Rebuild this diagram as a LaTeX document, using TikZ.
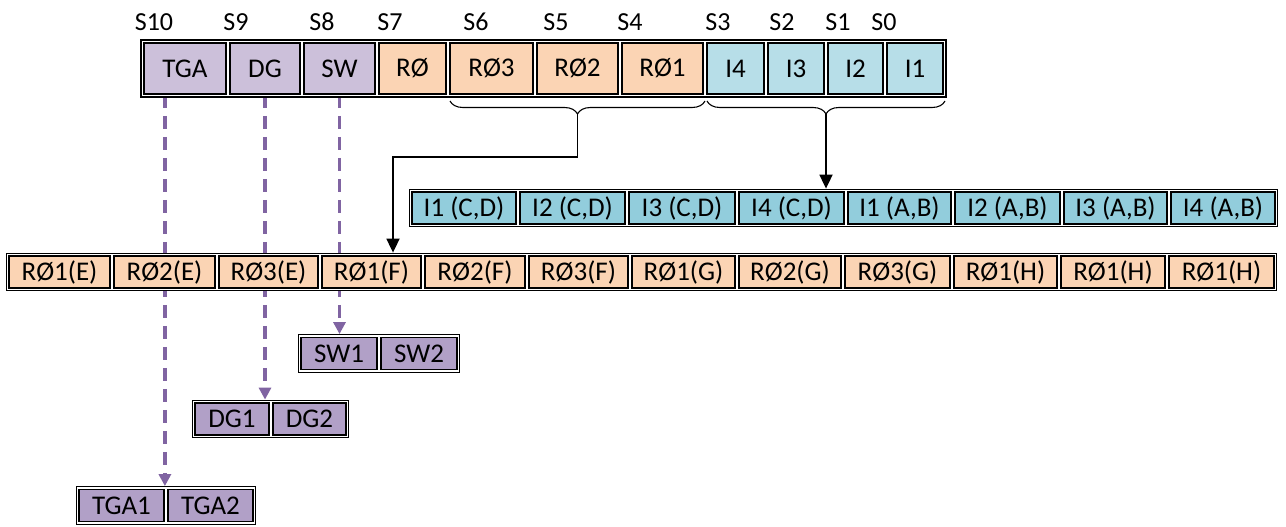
\documentclass[tikz,border=0pt]{standalone}
\usepackage{fontspec}
\setmainfont{Carlito}
\usepackage{tikz}
\usetikzlibrary{arrows.meta,positioning,fit,backgrounds,calc,decorations.pathreplacing}
\usepackage{xcolor}
\definecolor{lilac}{HTML}{CCC0DA}
\definecolor{plum}{HTML}{B1A0C7}
\definecolor{peach}{HTML}{FBD4B4}
\definecolor{paleaqua}{HTML}{B7DEE8}
\definecolor{aqua}{HTML}{92CDDC}
\definecolor{dashpurple}{HTML}{8064A2}
\tikzset{
cell/.style = {draw=black, line width=1.8pt, inner sep=0pt, font=\fontsize{27}{27}\selectfont},% one table cell
frame/.style = {draw=black, line width=1pt, fill=white, inner sep=2pt},% outer border of a table
slabel/.style = {inner sep=0pt, font=\fontsize{26}{26}\selectfont},% S0 .. S10
brace/.style = {decorate, decoration={brace, mirror, amplitude=13pt}, line width=1.1pt},
flow/.style = {line width=1.8pt, -{Triangle[length=14pt,width=13pt]}},
dashflow/.style = {dashpurple, line width=3.3pt, dash pattern=on 13pt off 8pt, -{Triangle[length=12pt,width=12pt]}}
}

\begin{document}
\begin{tikzpicture}[x=1pt,y=-1pt]
\useasboundingbox (0,0) rectangle (1286,527);

% status word
\foreach \l/\r/\t/\n/\c in {142/228/TGA/tga/lilac, 228/302/DG/dg/lilac, 302/377/SW/sw/lilac,
  377/448/RØ/rz/peach, 448/535/RØ3/rt/peach, 535/620/RØ2/rs/peach, 620/705/RØ1/ro/peach,
  705/766/I4/ifour/paleaqua, 766/826/I3/ithree/paleaqua, 826/885/I2/itwo/paleaqua, 885/945/I1/ione/paleaqua}{
  \pgfmathsetmacro\w{\r-\l-4}
  \node[cell, fill=\c, minimum width=\w pt, minimum height=51pt] (\n) at ({(\l+\r)/2},68.5) {\t};
}
\foreach \x/\t in {154/S10, 236/S9, 322/S8, 390/S7, 476/S6, 556/S5, 630/S4, 718/S3, 782/S2, 838/S1, 884/S0}
  \node[slabel] (s\t) at (\x,22) {\t};

% interrupt row
\foreach \l/\r/\t/\n in {{410/518/I1 (C,D)/icd1}, {518/627/I2 (C,D)/icd2}, {627/737/I3 (C,D)/icd3},
  {737/846/I4 (C,D)/icd4}, {846/953/I1 (A,B)/iab1}, {953/1062/I2 (A,B)/iab2},
  {1062/1169/I3 (A,B)/iab3}, {1169/1277/I4 (A,B)/iab4}}{
  \pgfmathsetmacro\w{\r-\l-4}
  \node[cell, fill=aqua, minimum width=\w pt, minimum height=32pt] (\n) at ({(\l+\r)/2},208) {\t};
}

% relay row
\foreach \l/\r/\t/\n in {7/112/RØ1(E)/re1, 112/217/RØ2(E)/re2, 217/320/RØ3(E)/re3,
  320/423/RØ1(F)/rf1, 423/527/RØ2(F)/rf2, 527/630/RØ3(F)/rf3,
  630/737/RØ1(G)/rg1, 737/843/RØ2(G)/rg2, 843/952/RØ3(G)/rg3,
  952/1059/RØ1(H)/rh1, 1059/1167/RØ1(H)/rh2, 1167/1276/RØ1(H)/rh3}{
  \pgfmathsetmacro\w{\r-\l-4}
  \node[cell, fill=peach, minimum width=\w pt, minimum height=32pt] (\n) at ({(\l+\r)/2},272) {\t};
}

% split words
\foreach \l/\r/\t/\n/\y in {299/379/SW1/sw1/353.5, 379/459/SW2/sw2/353.5,
  193/271/DG1/dg1/419, 271/348/DG2/dg2/419,
  77/166/TGA1/tga1/505.5, 166/255/TGA2/tga2/505.5}{
  \pgfmathsetmacro\w{\r-\l-4}
  \node[cell, fill=plum, minimum width=\w pt, minimum height=32pt] (\n) at ({(\l+\r)/2},\y) {\t};
}

\begin{scope}[on background layer]
  \node[frame, fit=(sw1)(sw2)] (swbox) {};
  \node[frame, fit=(dg1)(dg2)] (dgbox) {};
  \node[frame, fit=(tga1)(tga2)] (tgabox) {};
  \draw[dashflow] (tga1.east |- tga.south) -- (tga1.east |- tgabox.north);
  \draw[dashflow] (dg.south) -- (dg.south |- dgbox.north);
  \draw[dashflow] (sw.south) -- (sw.south |- swbox.north);
  \node[frame, line width=2.4pt, fit=(tga)(ione)] (sbox) {};
  \node[frame, fit=(icd1)(iab4)] (ibox) {};
  \node[frame, fit=(re1)(rh3)] (rbox) {};
\end{scope}

% braces and arrows
\draw[brace] (450,101) -- (705,101);
\draw[brace] (707,101) -- (945,101);
\coordinate (tipR) at (577.5,114);
\coordinate (tipI) at (826,114);
\coordinate (bend) at (393,157);
\draw[flow] (tipR) |- (bend) -- (bend |- rbox.north);
\draw[flow] (tipI) -- (tipI |- ibox.north);
\end{tikzpicture}
\end{document}
